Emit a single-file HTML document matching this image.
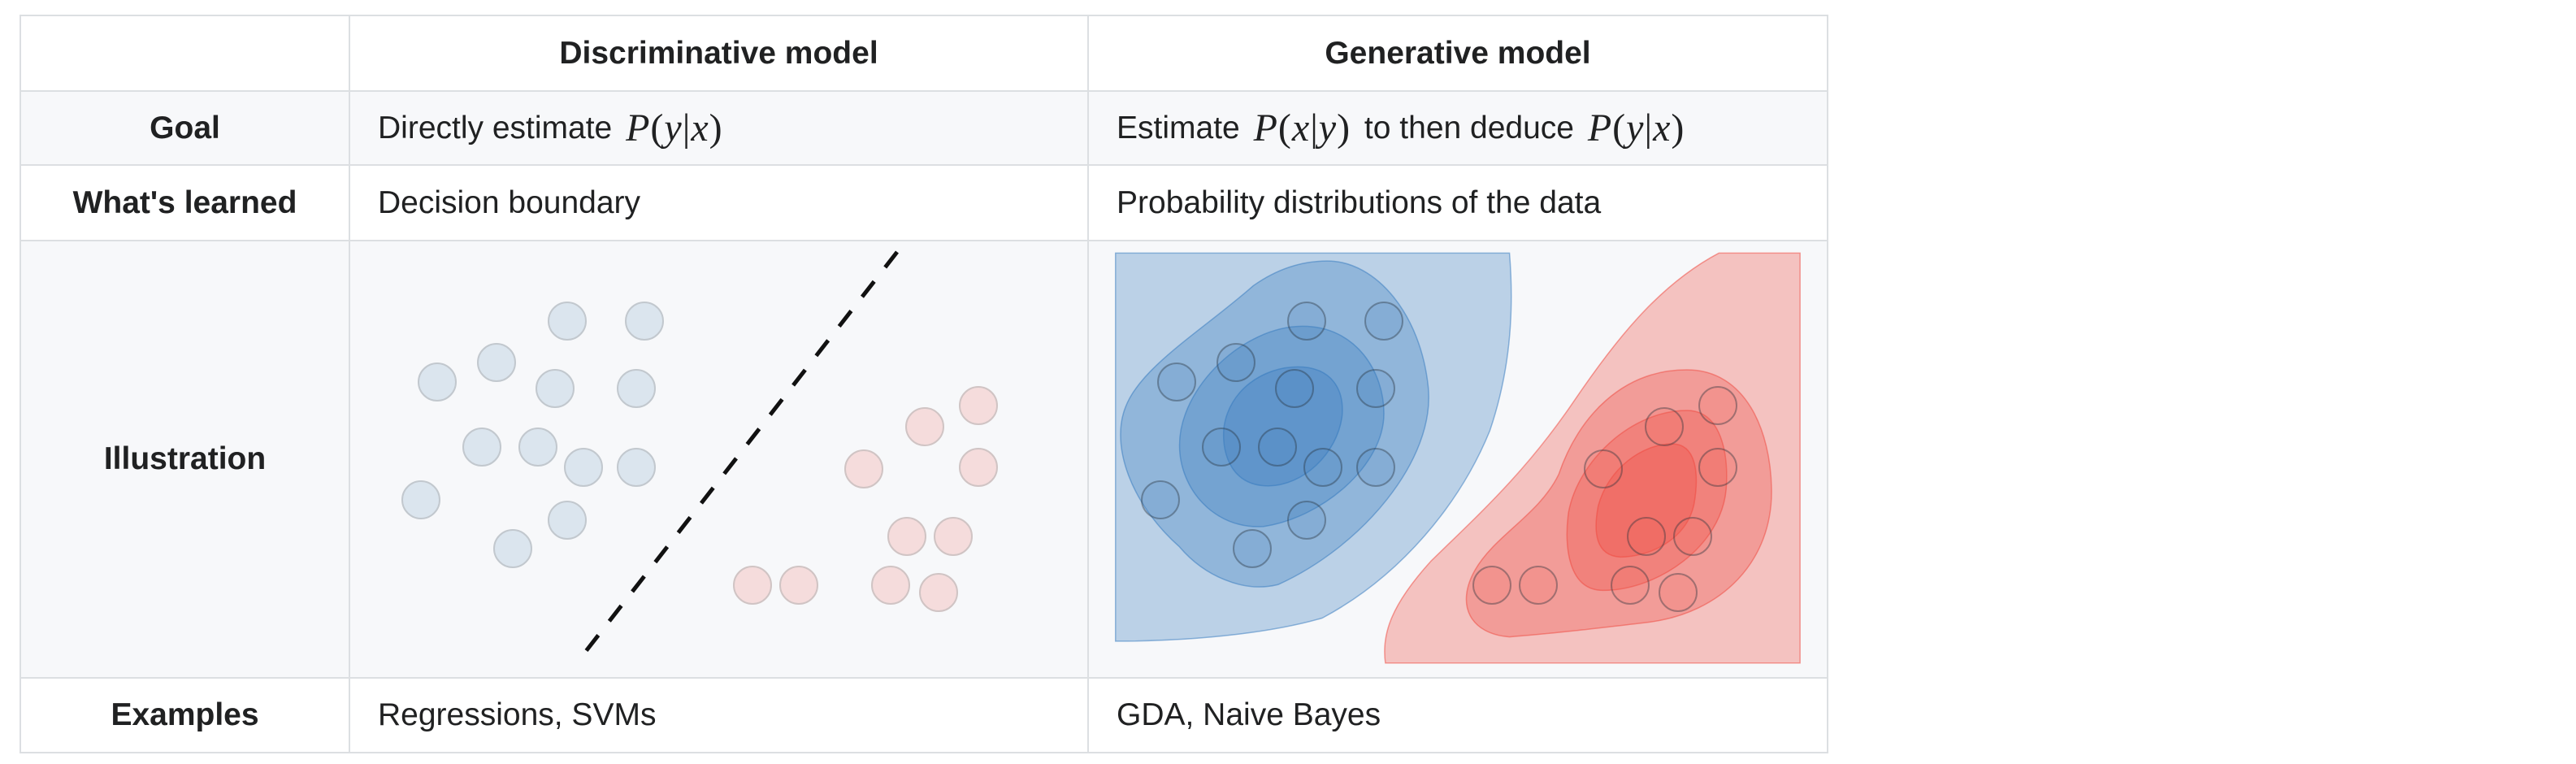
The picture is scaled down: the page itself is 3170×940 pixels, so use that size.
<!DOCTYPE html>
<html><head><meta charset="utf-8"><style>
body{margin:0;width:3170px;height:940px;background:#fff;position:relative;overflow:hidden;font-family:"Liberation Sans",Arial,sans-serif;color:#202122}
.c{position:absolute;box-sizing:border-box;border:2px solid #dcdfe2;display:flex;align-items:center;font-size:39px}
.h{font-weight:bold;justify-content:center}
.t{padding-left:34px}
.g{background:#f7f8fa}
.m{font-family:"Liberation Serif",serif;font-style:italic;font-size:48px;margin:0 6px;letter-spacing:1px}
.m span{font-style:normal}
</style></head><body>
<div class="c h" style="left:24px;top:18px;width:407px;height:95px"></div>
<div class="c h" style="left:429px;top:18px;width:911px;height:95px">Discriminative model</div>
<div class="c h" style="left:1338px;top:18px;width:912px;height:95px">Generative model</div>

<div class="c h g" style="left:24px;top:111px;width:407px;height:93px">Goal</div>
<div class="c t g" style="left:429px;top:111px;width:911px;height:93px">Directly estimate&nbsp;<span class="m">P<span>(</span>y<span>|</span>x<span>)</span></span></div>
<div class="c t g" style="left:1338px;top:111px;width:912px;height:93px">Estimate&nbsp;<span class="m">P<span>(</span>x<span>|</span>y<span>)</span></span>&nbsp;to then deduce&nbsp;<span class="m">P<span>(</span>y<span>|</span>x<span>)</span></span></div>

<div class="c h" style="left:24px;top:202px;width:407px;height:95px">What's learned</div>
<div class="c t" style="left:429px;top:202px;width:911px;height:95px">Decision boundary</div>
<div class="c t" style="left:1338px;top:202px;width:912px;height:95px">Probability distributions of the data</div>

<div class="c h g" style="left:24px;top:295px;width:407px;height:540px">Illustration</div>
<div class="c g" style="left:429px;top:295px;width:911px;height:540px"></div>
<div class="c g" style="left:1338px;top:295px;width:912px;height:540px"></div>

<div class="c h" style="left:24px;top:833px;width:407px;height:94px">Examples</div>
<div class="c t" style="left:429px;top:833px;width:911px;height:94px">Regressions, SVMs</div>
<div class="c t" style="left:1338px;top:833px;width:912px;height:94px">GDA, Naive Bayes</div>

<svg id="svg" width="3170" height="940" style="position:absolute;left:0;top:0">
<line x1="1104" y1="310" x2="711" y2="814" stroke="#111" stroke-width="5" stroke-dasharray="24,22"/>
<g transform="translate(1300,280) scale(0.60606,0.35714)">
<path d="M120,88 L920,88 C930,300 920,500 880,700 C820,950 700,1200 540,1345 C450,1390 300,1425 120,1425 Z" fill="rgba(49,120,189,0.3)" stroke="rgba(49,120,189,0.5)" stroke-width="1.5" vector-effect="non-scaling-stroke"/>
<path d="M550,115 C650,115 740,300 755,550 C770,800 620,1100 450,1230 C380,1260 300,1200 250,1100 C150,950 110,750 140,620 C170,480 300,350 400,200 C450,140 500,115 550,115 Z" fill="rgba(49,120,189,0.3)" stroke="rgba(49,120,189,0.5)" stroke-width="1.5" vector-effect="non-scaling-stroke"/>
<path d="M500,340 C610,340 665,500 665,640 C665,820 540,1000 420,1030 C320,1040 250,900 250,750 C250,550 380,340 500,340 Z" fill="rgba(49,120,189,0.3)" stroke="rgba(49,120,189,0.5)" stroke-width="1.5" vector-effect="non-scaling-stroke"/>
<path d="M490,480 C560,480 585,560 580,650 C570,780 500,890 430,890 C360,890 335,790 340,690 C350,560 420,480 490,480 Z" fill="rgba(49,120,189,0.3)" stroke="rgba(49,120,189,0.5)" stroke-width="1.5" vector-effect="non-scaling-stroke"/>
<path d="M1345,88 L1510,88 L1510,1500 L668,1500 C660,1400 680,1300 760,1150 C850,1000 950,850 1050,600 C1130,400 1220,200 1345,88 Z" fill="rgba(239,70,60,0.3)" stroke="rgba(239,70,60,0.5)" stroke-width="1.5" vector-effect="non-scaling-stroke"/>
<path d="M1280,490 C1400,490 1450,700 1452,900 C1455,1150 1350,1330 1200,1360 C1100,1380 1000,1400 920,1410 C840,1400 810,1300 850,1180 C890,1060 980,990 1020,850 C1060,650 1150,490 1280,490 Z" fill="rgba(239,70,60,0.3)" stroke="rgba(239,70,60,0.5)" stroke-width="1.5" vector-effect="non-scaling-stroke"/>
<path d="M1280,630 C1350,630 1365,780 1360,900 C1350,1100 1220,1250 1110,1250 C1040,1250 1030,1100 1040,980 C1060,800 1170,630 1280,630 Z" fill="rgba(239,70,60,0.3)" stroke="rgba(239,70,60,0.5)" stroke-width="1.5" vector-effect="non-scaling-stroke"/>
<path d="M1250,745 C1300,745 1305,850 1295,950 C1280,1080 1200,1135 1145,1135 C1095,1130 1090,1050 1100,960 C1120,830 1190,745 1250,745 Z" fill="rgba(239,70,60,0.3)" stroke="rgba(239,70,60,0.5)" stroke-width="1.5" vector-effect="non-scaling-stroke"/>
</g>
</svg>
<script>
const blueX=[698,793,611,538,683,783,593,662,718,783,518,698,631];
const blueY=[395,395,446,470,478,478,550,550,575,575,615,640,675];
const redX=[1204,1138,1063,1204,1116,1173,926,983,1096,1155];
const redY=[499,525,577,575,660,660,720,720,720,729];
const svg=document.getElementById('svg');
const NS='http://www.w3.org/2000/svg';
function dot(cx,cy,fill,stroke,name){
  const c=document.createElementNS(NS,'circle');
  c.setAttribute('cx',cx);c.setAttribute('cy',cy);c.setAttribute('r',23);
  c.setAttribute('fill',fill);c.setAttribute('stroke',stroke);c.setAttribute('stroke-width',2);
  
  
  svg.appendChild(c);
}
function gx(x){return x+910;}
function gy(y){return y;}
for(let i=0;i<blueX.length;i++){
  dot(blueX[i],blueY[i],'#dbe5ee','#c2c8ce','blue-point');
  dot(gx(blueX[i]),gy(blueY[i]),'rgba(70,130,190,0.15)','rgba(40,50,60,0.4)','blue-point-generative');
}
for(let i=0;i<redX.length;i++){
  dot(redX[i],redY[i],'#f5dcdc','#d0c4c4','red-point');
  dot(gx(redX[i]),gy(redY[i]),'rgba(240,100,90,0.15)','rgba(40,50,60,0.4)','red-point-generative');
}
</script>
</body></html>
